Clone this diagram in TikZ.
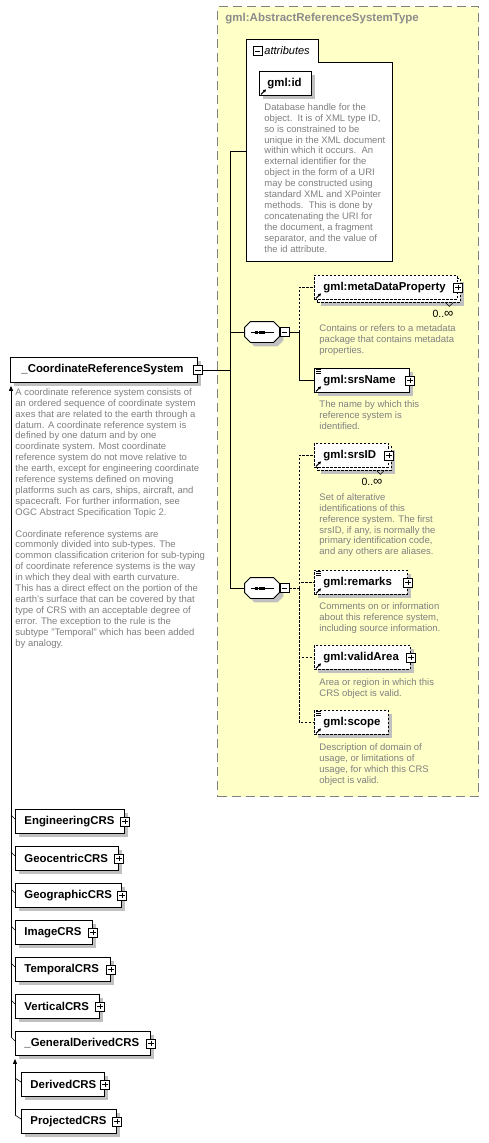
\documentclass[tikz,border=0pt]{standalone}
\usepackage{fontspec}
\setmainfont{Liberation Sans}
\usetikzlibrary{shadows,arrows.meta}
\definecolor{ybg}{RGB}{255,255,200}
\definecolor{yline}{RGB}{128,128,128}
\definecolor{dgray}{RGB}{128,128,128}
\definecolor{shd}{RGB}{192,192,192}
\definecolor{ttlc}{RGB}{140,140,140}
\newcommand\lblf{\fontsize{11.4}{13}\selectfont\bfseries}
\newcommand\dscf{\fontsize{9.5}{10.9}\selectfont}
\newcommand\ttlf{\fontsize{11.5}{13}\selectfont\bfseries}
\newcommand\attf{\fontsize{11}{13}\selectfont\itshape}
\newcommand\mulf{\fontsize{10.5}{12}\selectfont}
\newcommand\infsym{{\fontsize{13}{12}\selectfont ∞}}
\tikzset{
  opt/.style={dash pattern=on 2.5pt off 1.5pt},
  boxbase/.style={draw, fill=white, line width=0.9pt, inner xsep=0pt, inner ysep=0pt,
    anchor=north west, align=left, font=\lblf, minimum height=24pt},
  elbox/.style={boxbase, general shadow={fill=shd, shadow xshift=4pt, shadow yshift=-4pt}},
  optbox/.style={elbox, opt},
  optfront/.style={boxbase, opt},
  pm/.style={draw, fill=white, minimum size=9pt, inner sep=0pt, line width=0.7pt},
  minus/.style={pm, path picture={\draw[line width=0.7pt]
      ([xshift=1.8pt]path picture bounding box.west) -- ([xshift=-1.8pt]path picture bounding box.east);}},
  plus/.style={pm, path picture={\draw[line width=0.7pt]
      ([xshift=1.8pt]path picture bounding box.west) -- ([xshift=-1.8pt]path picture bounding box.east);
      \draw[line width=0.7pt]
      ([yshift=-1.8pt]path picture bounding box.north) -- ([yshift=1.8pt]path picture bounding box.south);}},
  dsc/.style={anchor=north west, inner sep=0pt, align=left, text=dgray, font=\dscf},
  inh/.style={-{Triangle[length=5pt,width=4pt]}},
  mult/.style={inner sep=0pt, font=\mulf},
}
\newcommand\refarrow[1]{\draw[line width=1pt, -{Triangle[length=2.8pt,width=3pt]}]
  ([shift={(2pt,1.5pt)}]#1.south west) -- ++(5pt,5pt);}
\newcommand\simpicon[1]{\foreach \d in {1.5,3.2,4.9}{\draw[line width=0.6pt]
  ([shift={(2pt,-\d pt)}]#1.north west) -- ++(5pt,0pt);}}
\newcommand\notch[1]{\draw[line width=0.6pt] ([xshift=-15pt]#1.south east) -- ++(3.5pt,-3.5pt) -- ++(3.5pt,3.5pt);}
\newcommand\seqsym[3]{%
  \node[inner sep=0pt, minimum width=34pt, minimum height=20pt] (#1) at (#2,#3) {};
  \begin{scope}[transform canvas={shift={(4pt,-4pt)}}]
    \fill[shd] ([xshift=6pt]#1.north west) -- ([xshift=-6pt]#1.north east) -- ([yshift=-6pt]#1.north east)
      -- ([yshift=6pt]#1.south east) -- ([xshift=-6pt]#1.south east) -- ([xshift=6pt]#1.south west)
      -- ([yshift=6pt]#1.south west) -- ([yshift=-6pt]#1.north west) -- cycle;
  \end{scope}
  \draw[fill=white, line width=0.9pt] ([xshift=6pt]#1.north west) -- ([xshift=-6pt]#1.north east) -- ([yshift=-6pt]#1.north east)
      -- ([yshift=6pt]#1.south east) -- ([xshift=-6pt]#1.south east) -- ([xshift=6pt]#1.south west)
      -- ([yshift=6pt]#1.south west) -- ([yshift=-6pt]#1.north west) -- cycle;
  \draw[line width=0.9pt] ([xshift=6pt]#1.west) -- ([xshift=-5pt]#1.east);
  \foreach \o in {-6.8,-3.3,0.2}{\fill ([shift={(\o pt,-1.5pt)}]#1.center) rectangle ++(3pt,3pt);}
  \node[minus] (#1m) at ([xshift=5pt]#1.east) {};
}
\begin{document}
\begin{tikzpicture}[x=1pt,y=-1pt,line width=0.9pt]
\useasboundingbox (0,0) rectangle (489,1143);
\fill[white] (0,0) rectangle (489,1143);

% group box
\node[draw=yline, fill=ybg, line width=1.1pt, dash pattern=on 9pt off 5pt, anchor=north west,
  minimum width=261pt, minimum height=790pt, inner sep=0pt] (grp) at (217,6) {};
\node[anchor=west, inner sep=0pt, text=ttlc, font=\ttlf] (grpttl) at (225,19) {gml:AbstractReferenceSystemType};

% attributes box
\draw[fill=white] (246,39) -- (318,39) -- (318,62) -- (392,62) -- (392,261) -- (246,261) -- cycle;
\coordinate (attrL) at (246,151);
\node[minus] (attrm) at (257.5,51) {};
\node[anchor=west, inner sep=0pt, font=\attf] (attrt) at (264,51) {attributes};
\node[elbox, text width=52pt] (gid) at (259,71) {\hspace*{8pt}gml:id};
\refarrow{gid}
\node[dsc] (giddesc) at (264,103) {Database handle for the\\object.\ \ It is of XML type ID,\\so is constrained to be\\unique in the XML document\\within which it occurs.\ \ An\\external identifier for the\\object in the form of a URI\\may be constructed using\\standard XML and XPointer\\methods.\ \ This is done by\\concatenating the URI for\\the document, a fragment\\separator, and the value of\\the id attribute.};

% main element
\node[elbox, text width=187pt, minimum height=25pt] (crs) at (10,357) {\hspace*{11pt}\_CoordinateReferenceSystem};
\node[minus] (crsm) at (crs.east) {};
\node[dsc] (crsdesc) at (15,388) {A coordinate reference system consists of\\an ordered sequence of coordinate system\\axes that are related to the earth through a\\datum. A coordinate reference system is\\defined by one datum and by one\\coordinate system. Most coordinate\\reference system do not move relative to\\the earth, except for engineering coordinate\\reference systems defined on moving\\platforms such as cars, ships, aircraft, and\\spacecraft. For further information, see\\OGC Abstract Specification Topic 2.\\[10.9pt]Coordinate reference systems are\\commonly divided into sub-types. The\\common classification criterion for sub-typing\\of coordinate reference systems is the way\\in which they deal with earth curvature.\\This has a direct effect on the portion of the\\earth's surface that can be covered by that\\type of CRS with an acceptable degree of\\error. The exception to the rule is the\\subtype "Temporal" which has been added\\by analogy.};

% sequences
\coordinate (vx) at (230,0);
\coordinate (hx) at (299,0);
\seqsym{seqa}{262}{332}
\seqsym{seqb}{262}{588}

% elements of first sequence
\node[optbox, text width=143pt] (mdpback) at (317,278) {};
\notch{mdpback}
\node[optfront, text width=143pt] (mdp) at (314,275) {\hspace*{9pt}gml:metaDataProperty};
\node[plus] (mdpp) at (mdp.east) {};
\refarrow{mdp}
\node[mult] (mdpmult) at (443,314) {0..\infsym};
\node[dsc] (mdpdesc) at (319,324) {Contains or refers to a metadata\\package that contains metadata\\properties.};

\node[elbox, text width=95pt] (sname) at (314,368) {\hspace*{9pt}gml:srsName};
\node[plus] (snamep) at (sname.east) {};
\refarrow{sname}\simpicon{sname}
\node[dsc] (snamedesc) at (319,400) {The name by which this\\reference system is\\identified.};

% elements of second sequence
\node[optbox, text width=74pt] (srsidback) at (317,446) {};
\notch{srsidback}
\node[optfront, text width=74pt] (srsid) at (314,443) {\hspace*{9pt}gml:srsID};
\node[plus] (srsidp) at (srsid.east) {};
\refarrow{srsid}
\node[mult] (srsidmult) at (372,482) {0..\infsym};
\node[dsc] (srsiddesc) at (319,493) {Set of alterative\\identifications of this\\reference system. The first\\srsID, if any, is normally the\\primary identification code,\\and any others are aliases.};

\node[optbox, text width=93pt] (rem) at (314,570) {\hspace*{9pt}gml:remarks};
\node[plus] (remp) at (rem.east) {};
\refarrow{rem}\simpicon{rem}
\node[dsc] (remdesc) at (319,602) {Comments on or information\\about this reference system,\\including source information.};

\node[optbox, text width=96pt] (va) at (314,645) {\hspace*{9pt}gml:validArea};
\node[plus] (vap) at (va.east) {};
\refarrow{va}
\node[dsc] (vadesc) at (319,678) {Area or region in which this\\CRS object is valid.};

\node[optbox, text width=74pt] (scope) at (314,710) {\hspace*{9pt}gml:scope};
\refarrow{scope}\simpicon{scope}
\node[dsc] (scopedesc) at (319,743) {Description of domain of\\usage, or limitations of\\usage, for which this CRS\\object is valid.};

% connectors
\draw (crsm.east) -- (crsm.east -| vx);
\draw (attrL -| vx) -- (seqb.west -| vx);
\draw (attrL -| vx) -- (attrL);
\draw (seqa.west -| vx) -- (seqa.west);
\draw (seqb.west -| vx) -- (seqb.west);
\draw (seqam.east) -- (seqam.east -| hx);
\draw[opt] (seqam.east -| hx) |- (mdp.west);
\draw (seqam.east -| hx) |- (sname.west);
\draw[opt] (seqbm.east) -- (seqbm.east -| hx);
\draw[opt] (seqbm.east -| hx) |- (srsid.west);
\draw[opt] (seqbm.east -| hx) |- (rem.west);
\draw[opt] (seqbm.east -| hx) |- (va.west);
\draw[opt] (seqbm.east -| hx) |- (scope.west);

% subtypes
\node[elbox, text width=109pt] (eng) at (15,809) {\hspace*{9pt}EngineeringCRS};
\node[plus] (engp) at (eng.east) {};
\node[elbox, text width=103pt] (geoc) at (15,846) {\hspace*{9pt}GeocentricCRS};
\node[plus] (geocp) at (geoc.east) {};
\node[elbox, text width=106pt] (geog) at (15,883) {\hspace*{9pt}GeographicCRS};
\node[plus] (geogp) at (geog.east) {};
\node[elbox, text width=77pt] (img) at (15,920) {\hspace*{9pt}ImageCRS};
\node[plus] (imgp) at (img.east) {};
\node[elbox, text width=95pt] (tmp) at (15,957) {\hspace*{9pt}TemporalCRS};
\node[plus] (tmpp) at (tmp.east) {};
\node[elbox, text width=84pt] (vert) at (15,994) {\hspace*{9pt}VerticalCRS};
\node[plus] (vertp) at (vert.east) {};
\node[elbox, text width=135pt] (gdc) at (15,1031) {\hspace*{9pt}\_GeneralDerivedCRS};
\node[plus] (gdcp) at (gdc.east) {};
\node[elbox, text width=83pt] (der) at (21,1072) {\hspace*{9pt}DerivedCRS};
\node[plus] (derp) at (der.east) {};
\node[elbox, text width=95pt] (proj) at (21,1109) {\hspace*{9pt}ProjectedCRS};
\node[plus] (projp) at (proj.east) {};

% inheritance
\draw[inh] ([shift={(-4pt,-6pt)}]gdc.north west) -- ([shift={(1pt,-3pt)}]crs.south west);
\foreach \n in {eng,geoc,geog,img,tmp,vert,gdc}{
  \draw[line width=0.6pt] ([shift={(-4pt,-6pt)}]\n.north west) -- ([yshift=-10pt]\n.north west);}
\draw[inh] ([shift={(-6pt,-6pt)}]proj.north west) -- ([yshift=-3pt]gdc.south west);
\foreach \n in {der,proj}{
  \draw[line width=0.6pt] ([shift={(-6pt,-6pt)}]\n.north west) -- ([yshift=-10pt]\n.north west);}
\end{tikzpicture}
\end{document}
